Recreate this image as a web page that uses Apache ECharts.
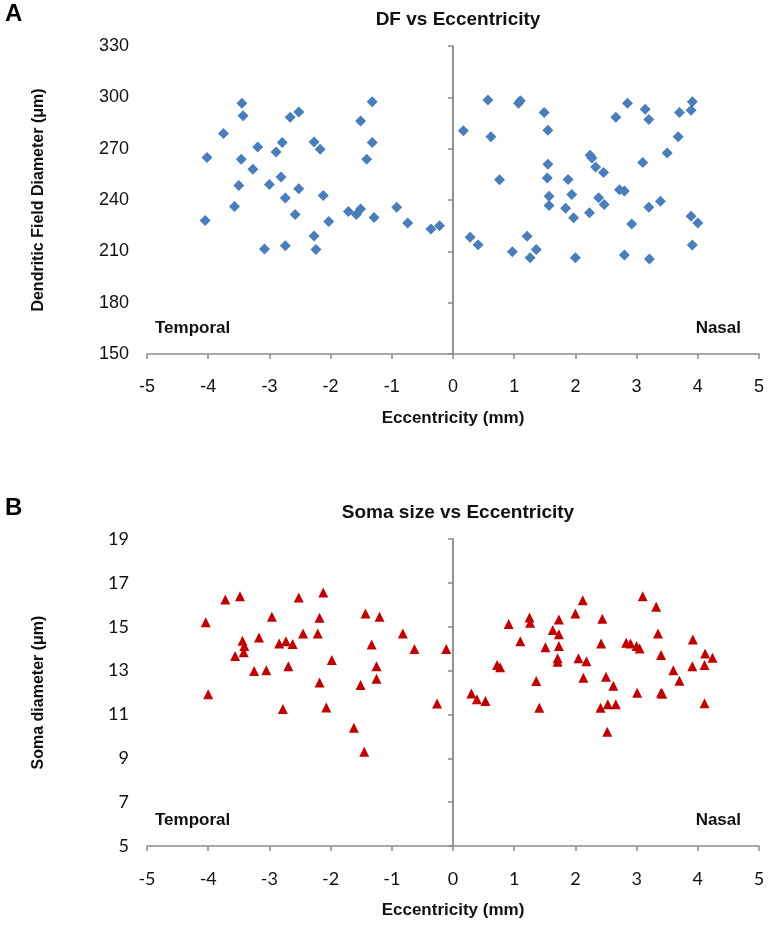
<!DOCTYPE html>
<html><head><meta charset="utf-8">
<script src="https://cdn.jsdelivr.net/npm/echarts@6/dist/echarts.min.js"></script>
<style>html,body{margin:0;padding:0;background:#fff}#c{width:769px;height:938px}</style>
</head><body><div id="c"></div>
<script>
// Panel A: Dendritic field diameter vs eccentricity
const dfEcc = [-3.45,-3.43,-2.66,-2.52,-3.75,-4.02,-3.46,-3.19,-2.79,-2.89,-3.27,-3.50,-3.00,-2.81,-2.52,-2.74,-3.57,-2.58,-4.05,-3.08,-2.74,
 -1.32,-1.51,-2.27,-2.17,-1.32,-1.41,-2.12,-2.03,-2.27,-2.24,-1.71,-1.58,-1.51,-1.29,-0.92,-0.74,-0.36,-0.22,
 0.57,1.10,1.07,1.49,0.17,0.62,1.55,2.24,2.27,2.33,2.46,1.55,0.76,1.54,1.88,1.57,1.94,1.57,1.84,1.97,2.23,2.38,2.47,0.28,0.41,1.21,1.36,0.97,1.26,2.00,
 2.85,2.66,3.14,3.20,3.70,3.91,3.89,3.68,3.50,3.10,2.72,2.80,3.20,3.39,2.92,3.89,4.00,3.91,2.80,3.21];
const dfDiam = [296.5,289.2,288.3,291.5,278.9,264.8,263.8,271,273.6,268.1,257.9,248.5,249.1,253.4,246.6,241.1,236.2,231.5,228,211.4,213.3,
 297.4,286.1,273.9,269.7,273.6,263.8,242.7,227.4,219,211,233.3,231.5,234.8,229.7,235.8,226.6,223.1,225,
 298.4,298,296.5,291.2,280.4,276.9,280.8,266.1,264.5,259.3,256,260.9,251.9,252.8,252,242.2,243.2,236.8,235.2,229.6,232.5,241.3,237.4,218.2,213.9,218.8,211,209.8,206.3,206.3,
 296.5,288.3,293,287.1,291.2,297.4,292.5,276.9,267.5,261.9,246,245.2,235.8,239.3,226,230.5,226.6,213.7,207.8,205.5];

// Panel B: Soma diameter vs eccentricity
const somaEcc = [-3.72,-3.48,-2.52,-4.04,-2.96,-3.17,-3.44,-3.41,-3.42,-3.56,-2.84,-2.73,-2.62,-3.25,-3.05,-2.69,-4.00,-2.78,
 -2.12,-2.18,-2.45,-2.21,-1.98,-2.18,-2.07,-1.62,-1.43,-1.20,-0.82,-1.33,-0.63,-0.11,-1.25,-1.25,-1.51,-0.26,-1.45,
 2.12,2.00,2.44,1.25,1.26,1.73,0.91,1.63,1.73,1.10,1.51,1.73,2.42,1.71,1.71,2.05,2.18,0.72,0.77,1.36,2.13,2.50,0.30,0.39,0.53,1.41,2.41,2.53,2.52,
 3.10,3.32,3.35,3.92,2.83,2.90,3.00,3.05,3.40,4.12,4.24,3.60,3.91,4.11,2.62,3.70,3.01,3.40,3.42,2.66,4.11];
const somaDiam = [16.24,16.39,16.33,15.2,15.45,14.51,14.36,14.12,13.83,13.66,14.24,14.34,14.21,12.98,13.02,13.2,11.92,11.25,
 16.56,15.41,14.69,14.69,13.48,12.46,11.32,10.39,15.6,15.45,14.69,14.19,13.98,13.98,13.2,12.63,12.34,11.5,9.3,
 16.21,15.6,15.36,15.42,15.18,15.33,15.12,14.85,14.66,14.34,14.06,14.12,14.24,13.56,13.4,13.56,13.43,13.25,13.15,12.52,12.67,12.72,11.96,11.69,11.61,11.31,11.31,11.46,10.21,
 16.39,15.91,14.69,14.42,14.27,14.24,14.12,14.01,13.71,13.78,13.58,13.02,13.2,13.25,12.31,12.54,11.99,11.99,11.94,11.46,11.51];

const xTicks = [-5,-4,-3,-2,-1,0,1,2,3,4,5];
const dfTicks = [150,180,210,240,270,300,330];
const somaTicks = [5,7,9,11,13,15,17,19];

const zip = (a,b) => a.map((v,i)=>[v,b[i]]);
const axisGray = '#8c8c8c';
const arial = 'Liberation Sans, Arial, sans-serif';
const calibri = 'Lato, Liberation Sans, sans-serif';

function xAx(gi, font){
  return {gridIndex:gi, type:'value', min:-5, max:5, interval:1,
    name:'Eccentricity (mm)', nameLocation:'middle', nameGap:56,
    nameTextStyle:{fontFamily:arial, fontWeight:'bold', fontSize:17, color:'#111'},
    axisLine:{onZero:false, lineStyle:{color:axisGray, width:1.5}},
    axisTick:{show:true, inside:false, length:5, lineStyle:{color:axisGray, width:1.5}},
    axisLabel:{fontFamily:font, fontSize:18, color:'#111', margin:24,
      formatter:v=> xTicks.includes(v)? String(v):''},
    splitLine:{show:false}};
}
function yAx(gi, min, max, step, ticks, name, font){
  return {gridIndex:gi, type:'value', min:min, max:max, interval:step,
    name:name, nameLocation:'middle', nameGap:100,
    nameTextStyle:{fontFamily:arial, fontWeight:'bold', fontSize:16, color:'#111'},
    axisLine:{show:true, lineStyle:{color:axisGray, width:1.5}},
    axisTick:{show:true, length:5, lineStyle:{color:axisGray, width:1.5}},
    axisLabel:{fontFamily:font, fontSize:18, color:'#111', margin:18,
      formatter:v=> ticks.includes(v)? String(v):''},
    splitLine:{show:false}};
}
const chart = echarts.init(document.getElementById('c'), null, {renderer:'canvas'});
chart.setOption({
  animation:false,
  backgroundColor:'#fff',
  title:[
    {text:'DF vs Eccentricity', left:453, top:5, textAlign:'center',
      textStyle:{fontFamily:arial, fontWeight:'bold', fontSize:19, color:'#111'}},
    {text:'Soma size vs Eccentricity', left:453, top:498, textAlign:'center',
      textStyle:{fontFamily:arial, fontWeight:'bold', fontSize:19, color:'#111'}}
  ],
  graphic:[
    {type:'text', left:5, top:2, style:{text:'A', font:'bold 24px '+arial, fill:'#000'}},
    {type:'text', left:5, top:496, style:{text:'B', font:'bold 24px '+arial, fill:'#000'}},
    {type:'text', left:155, top:320, style:{text:'Temporal', font:'bold 17px '+arial, fill:'#111'}},
    {type:'text', right:28, top:320, style:{text:'Nasal', font:'bold 17px '+arial, fill:'#111'}},
    {type:'text', left:155, top:812, style:{text:'Temporal', font:'bold 17px '+arial, fill:'#111'}},
    {type:'text', right:28, top:812, style:{text:'Nasal', font:'bold 17px '+arial, fill:'#111'}}
  ],
  grid:[
    {left:147, right:10, top:46, height:308},
    {left:147, right:10, top:539, height:307}
  ],
  xAxis:[xAx(0, arial), xAx(1, calibri)],
  yAxis:[
    yAx(0, 150, 330, 30, dfTicks, 'Dendritic Field Diameter (\u03bcm)', arial),
    yAx(1, 5, 19, 2, somaTicks, 'Soma diameter (\u03bcm)', calibri)
  ],
  series:[
    {type:'scatter', xAxisIndex:0, yAxisIndex:0, data:zip(dfEcc, dfDiam),
      symbol:'diamond', symbolSize:11, itemStyle:{color:'#4a7ebb', opacity:1},
      markLine:{silent:true, symbol:'none', label:{show:false},
        lineStyle:{color:axisGray, width:1.5, type:'solid'}, data:[{xAxis:0}]}},
    {type:'scatter', xAxisIndex:1, yAxisIndex:1, data:zip(somaEcc, somaDiam),
      symbol:'triangle', symbolSize:10, itemStyle:{color:'#c00000', opacity:1},
      markLine:{silent:true, symbol:'none', label:{show:false},
        lineStyle:{color:axisGray, width:1.5, type:'solid'}, data:[{xAxis:0}]}}
  ]
});
</script></body></html>
